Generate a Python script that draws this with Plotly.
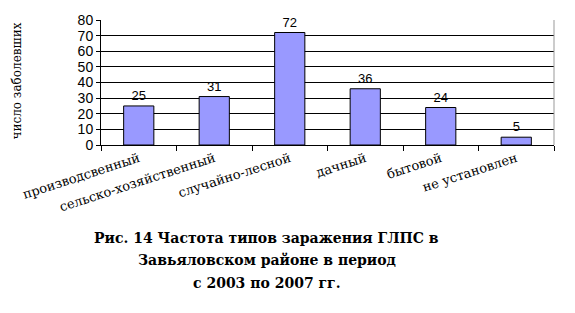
import plotly.graph_objects as go

categories = ["производсвенный", "сельско-хозяйственный", "случайно-лесной",
              "дачный", "бытовой", "не установлен"]
values = [25, 31, 72, 36, 24, 5]
y_ticks = [0, 10, 20, 30, 40, 50, 60, 70, 80]
y_title = "число заболевших"
caption_lines = ["Рис. 14 Частота типов заражения ГЛПС в",
                 "Завьяловском районе в период",
                 "с 2003 по 2007 гг."]

SERIF = "DejaVu Serif"
SANS = "Liberation Sans"

fig = go.Figure()
fig.add_trace(go.Bar(
    x=categories, y=values,
    marker=dict(color="#9999FF", line=dict(color="#000000", width=1)),
    text=[str(v) for v in values], textposition="outside",
    textfont=dict(family=SANS, size=13, color="#000"),
    cliponaxis=False,
))

annotations = [
    dict(text=y_title, xref="paper", yref="paper", x=-0.185, y=0.51,
         xanchor="center", yanchor="middle",
         textangle=-90, showarrow=False,
         font=dict(family=SERIF, size=12, color="#000")),
]
for i, line in enumerate(caption_lines):
    annotations.append(dict(
        text="<b>" + line + "</b>", xref="paper", yref="paper",
        x=0.366, y=-0.742 - 0.18 * i, xanchor="center", yanchor="middle",
        showarrow=False, font=dict(family=SERIF, size=14, color="#000")))

fig.update_layout(
    width=575, height=313,
    margin=dict(l=101, r=21, t=17, b=168),
    paper_bgcolor="white", plot_bgcolor="white",
    bargap=0.6, showlegend=False,
    xaxis=dict(
        tickangle=-18, tickson="boundaries", ticks="outside", ticklen=5,
        tickcolor="#000", showline=True, linecolor="#000", linewidth=1,
        tickfont=dict(family=SERIF, size=13, color="#000"),
        showgrid=False,
    ),
    yaxis=dict(
        range=[0, 80], tickvals=y_ticks, ticks="outside", ticklen=4,
        tickcolor="#000", showline=True, linecolor="#000", linewidth=1,
        showgrid=True, gridcolor="#000", gridwidth=1, zeroline=False,
        tickfont=dict(family=SANS, size=14, color="#000"),
    ),
    shapes=[dict(type="line", xref="paper", yref="paper", x0=1, x1=1, y0=0, y1=1,
                 line=dict(color="#999", width=1))],
    annotations=annotations,
)
fig.write_html("out.html")
